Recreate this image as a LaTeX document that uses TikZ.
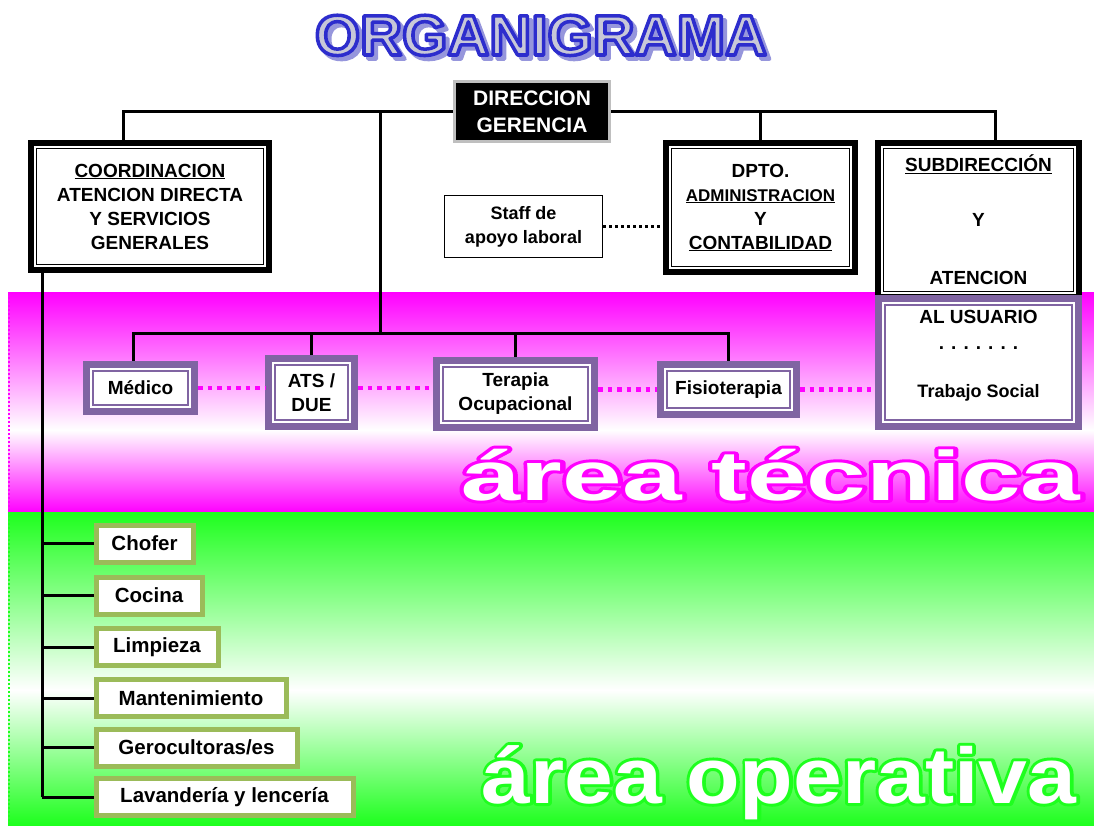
\documentclass[tikz,border=0pt]{standalone}
\usepackage{fontspec}
\setmainfont{Liberation Sans}
\usetikzlibrary{calc}

\definecolor{boxpurple}{RGB}{128,100,162}
\definecolor{boxgreen}{RGB}{155,187,89}
\definecolor{bandpink}{RGB}{255,0,255}
\definecolor{bandgreen}{RGB}{30,255,30}
\definecolor{titlefill}{RGB}{200,200,216}
\definecolor{titleline}{RGB}{45,45,205}
\definecolor{titleshadow}{RGB}{150,150,220}

% stroke (1) or fill+stroke (2) of glyphs, width #2
\newcommand{\strokedtext}[3]{\special{pdf:literal direct 1 j #2 w #1 Tr}#3\special{pdf:literal direct 0 Tr}}
\newcommand{\titlestroke}[1]{\special{pdf:literal direct 1 j 3.5 w 0.176 0.176 0.804 RG 2 Tr}#1\special{pdf:literal direct 0 Tr}}

\tikzset{
  every node/.style={inner sep=0pt, align=center, font=\bfseries\fontsize{19}{24}\selectfont},
  headbox/.style={draw=black, line width=6pt, fill=white,
    path picture={\draw[black, line width=1.5pt] ([shift={(5.5pt,-5.5pt)}]path picture bounding box.north west) rectangle ([shift={(-5.5pt,5.5pt)}]path picture bounding box.south east);}},
  purplebox/.style={draw=boxpurple, line width=7pt, fill=white,
    path picture={\draw[boxpurple, line width=1.3pt] ([shift={(6.5pt,-6.5pt)}]path picture bounding box.north west) rectangle ([shift={(-6.5pt,6.5pt)}]path picture bounding box.south east);}},
  greenbox/.style={draw=boxgreen, line width=5pt, fill=white, anchor=west, minimum height=37pt,
    font=\bfseries\fontsize{20.5}{24}\selectfont},
  dirbox/.style={draw=black!25, line width=3pt, fill=black, text=white,
    font=\bfseries\fontsize{21}{27}\selectfont},
  staffbox/.style={draw=black, line width=1.5pt, fill=white, font=\bfseries\fontsize{18}{24}\selectfont},
  conn/.style={black, line width=3pt},
  blackdots/.style={black, line width=3pt, dash pattern=on 3pt off 3pt},
  pinkdots/.style={bandpink, line width=4.5pt, dash pattern=on 4.5pt off 5pt},
  titlefont/.style={font=\bfseries\fontsize{57}{60}\selectfont, anchor=base},
  areafont/.style={font=\bfseries\fontsize{70}{80}\selectfont, anchor=base},
  operfont/.style={font=\bfseries\fontsize{79}{90}\selectfont, anchor=base}
}

\begin{document}
\begin{tikzpicture}[x=1pt,y=-1pt]
\useasboundingbox (0,0) rectangle (1094,825);

\shade[top color=bandpink, bottom color=white] (8,292) rectangle (1094,430);
\shade[top color=white, bottom color=bandpink] (8,430) rectangle (1094,512);
\shade[top color=bandgreen, bottom color=white] (8,512) rectangle (1094,690);
\shade[top color=white, bottom color=bandgreen] (8,690) rectangle (1094,825);
\draw[bandpink, line width=2pt, dash pattern=on 2pt off 2pt] (9,511) -- (9,293) -- (1094,293);
\draw[bandgreen, line width=2pt, dash pattern=on 2pt off 2pt] (9,825) -- (9,513) -- (1094,513);

% title
\node[titlefont, text=titleshadow] (titleshadow) at (545,59) {\strokedtext{2}{3.5}{\scalebox{1.02}[1]{ORGANIGRAMA}}};
\node[titlefont, text=titlefill] (title) at (541,55) {\titlestroke{\scalebox{1.02}[1]{ORGANIGRAMA}}};

% area labels
\node[areafont, text=bandpink] (tecline) at (771,500) {\strokedtext{1}{6}{\scalebox{1.53}[1]{área técnica}}};
\node[areafont, text=white] (tecnica) at (771,500) {\scalebox{1.53}[1]{área técnica}};
\node[operfont, text=bandgreen] (operline) at (779,803) {\strokedtext{1}{6}{\scalebox{1.11}[1]{área operativa}}};
\node[operfont, text=white] (operativa) at (779,803) {\scalebox{1.11}[1]{área operativa}};

% top level
\node[dirbox, minimum width=155pt, minimum height=60pt] (dir) at (532,111.5) {DIRECCION\\GERENCIA};
\node[headbox, minimum width=238pt, minimum height=127pt] (coord) at (150,206.5)
  {\underline{COORDINACION}\\ATENCION DIRECTA\\Y SERVICIOS\\GENERALES};
\node[staffbox, minimum width=158pt, minimum height=62pt] (staff) at (523.5,226.5) {Staff de\\apoyo laboral};
\node[headbox, minimum width=189pt, minimum height=129pt] (dpto) at (760.5,207.5)
  {DPTO.\\{\fontsize{17}{24}\selectfont\underline{ADMINISTRACION}}\\Y\\\underline{CONTABILIDAD}};
\node[headbox, minimum width=201pt, minimum height=154pt] (subA) at (978.5,220)
  {\underline{SUBDIRECCIÓN}\\[31pt]Y\\[34pt]ATENCION};
\node[purplebox, minimum width=200pt, minimum height=128pt] (subB) at (978.5,362.5) {};
\node (subBt) at (978.5,356) {AL USUARIO\\[2pt]. . . . . . .\\[24pt]{\fontsize{18}{24}\selectfont Trabajo Social}};

% area tecnica
\node[purplebox, minimum width=108pt, minimum height=47pt] (medico) at (140.5,388) {Médico};
\node[purplebox, minimum width=86pt, minimum height=68pt] (ats) at (311.5,392.5) {ATS /\\DUE};
\node[purplebox, minimum width=158pt, minimum height=67pt] (terapia) at (515.5,394) {Terapia\\Ocupacional};
\node[purplebox, minimum width=136pt, minimum height=50pt] (fisio) at (728.5,389.5) {Fisioterapia};

% area operativa
\node[greenbox, minimum width=97pt] (chofer) at (93.5,543.5) {Chofer};
\node[greenbox, minimum width=106pt] (cocina) at (93.5,595.5) {Cocina};
\node[greenbox, minimum width=122pt] (limpieza) at (93.5,647) {Limpieza};
\node[greenbox, minimum width=190pt] (manten) at (93.5,698) {Mantenimiento};
\node[greenbox, minimum width=201pt] (gero) at (93.5,747.5) {Gerocultoras/es};
\node[greenbox, minimum width=257pt] (lavan) at (93.5,797) {Lavandería y lencería};

% connectors
\coordinate (cdrop) at ([xshift=-27pt]coord.north);
\coordinate (sdrop) at ([xshift=17pt]subA.north);
\coordinate (trunk) at (380,333);
\coordinate (mdrop) at ([xshift=-7pt]medico.north);
\coordinate (spine) at ([xshift=-108pt]coord.south);
\draw[conn] (dir.west) -| (cdrop);
\draw[conn] (dir.east) -| (dpto.north);
\draw[conn] (dir.east) -| (sdrop);
\draw[conn] (dir.west -| trunk) -- (trunk);
\draw[conn] (mdrop) |- (trunk) -| (fisio.north);
\draw[conn] (ats.north) -- (ats.north |- trunk);
\draw[conn] (terapia.north) -- (terapia.north |- trunk);
\draw[conn] (spine) -- (spine |- lavan.west);
\draw[conn] (spine |- chofer.west) -- (chofer.west);
\draw[conn] (spine |- cocina.west) -- (cocina.west);
\draw[conn] (spine |- limpieza.west) -- (limpieza.west);
\draw[conn] (spine |- manten.west) -- (manten.west);
\draw[conn] (spine |- gero.west) -- (gero.west);
\draw[conn] (spine |- lavan.west) -- (lavan.west);
\draw[blackdots] (staff.east) -- (staff.east -| dpto.west);
\draw[pinkdots] (medico.east) -- (medico.east -| ats.west);
\draw[pinkdots] (ats.east |- medico.east) -- (medico.east -| terapia.west);
\draw[pinkdots] (terapia.east |- fisio.west) -- (fisio.west);
\draw[pinkdots] (fisio.east) -- (fisio.east -| subB.west);
\end{tikzpicture}
\end{document}
